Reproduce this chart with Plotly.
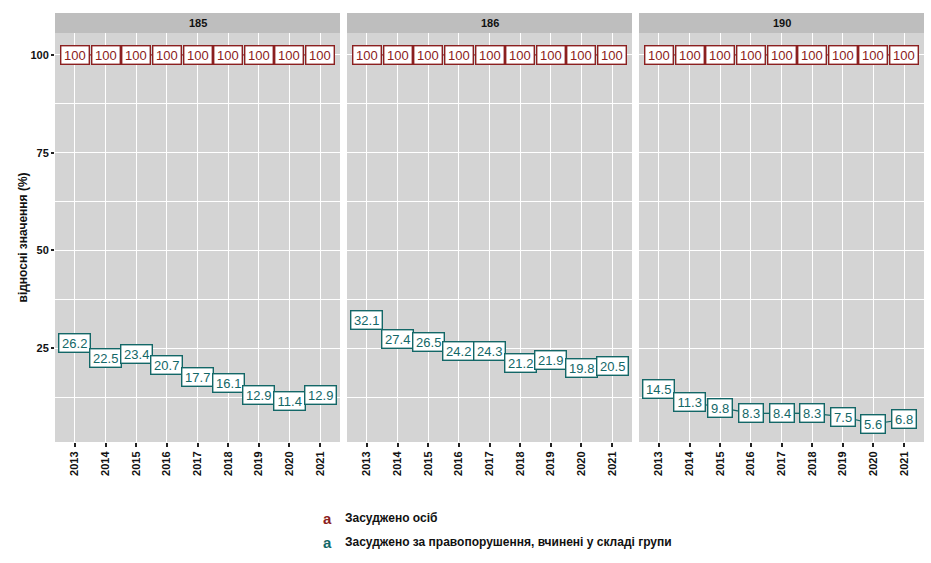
import plotly.graph_objects as go

years = [2013, 2014, 2015, 2016, 2017, 2018, 2019, 2020, 2021]
panels = ["185", "186", "190"]
convicted = {
    "185": [100, 100, 100, 100, 100, 100, 100, 100, 100],
    "186": [100, 100, 100, 100, 100, 100, 100, 100, 100],
    "190": [100, 100, 100, 100, 100, 100, 100, 100, 100],
}
group = {
    "185": [26.2, 22.5, 23.4, 20.7, 17.7, 16.1, 12.9, 11.4, 12.9],
    "186": [32.1, 27.4, 26.5, 24.2, 24.3, 21.2, 21.9, 19.8, 20.5],
    "190": [14.5, 11.3, 9.8, 8.3, 8.4, 8.3, 7.5, 5.6, 6.8],
}
series_names = ["Засуджено осіб", "Засуджено за правопорушення, вчинені у складі групи"]
y_title = "відносні значення (%)"
y_ticks = [25, 50, 75, 100]
y_minor = [12.5, 37.5, 62.5, 87.5]

RED = "#8B2020"
TEAL = "#136767"
PANEL_BG = "#D4D4D4"
STRIP_BG = "#BEBEBE"
FONT = "Liberation Sans, Arial, sans-serif"
LABEL_SIZE = 13

W, H = 931, 563
ml, mr, mt, mb = 55, 7, 13, 121
pw = W - ml - mr
ph = H - mt - mb
strip_h = 20
ytop = 1 - strip_h / ph
panel_px = [(0, 285), (292, 577), (584, 869)]
domains = [[a / pw, b / pw] for a, b in panel_px]


def label_width(s):
    w = sum(0.278 if c == "." else 0.556 for c in s) * LABEL_SIZE
    return w + 3


fig = go.Figure()
annotations = []
shapes = []

for i, p in enumerate(panels):
    xa = "x" if i == 0 else f"x{i+1}"
    ya = "y" if i == 0 else f"y{i+1}"
    for vals, col in [(convicted[p], RED), (group[p], TEAL)]:
        fig.add_trace(go.Scatter(x=years, y=vals, mode="lines",
                                 line=dict(color=col, width=1.2),
                                 xaxis=xa, yaxis=ya, showlegend=False,
                                 hoverinfo="skip"))
        for xv, yv in zip(years, vals):
            txt = f"{yv:g}"
            annotations.append(dict(
                x=xv, y=yv, xref=xa, yref=ya, text=txt, width=label_width(txt),
                showarrow=False, font=dict(family=FONT, size=LABEL_SIZE, color=col),
                bgcolor="white", bordercolor=col, borderwidth=1.4,
                borderpad=1.2, xanchor="center", yanchor="middle", align="center"))
    axn = "xaxis" if i == 0 else f"xaxis{i+1}"
    ayn = "yaxis" if i == 0 else f"yaxis{i+1}"
    fig.layout[axn] = dict(
        domain=domains[i], anchor=ya, range=[2012.35, 2021.65],
        tickvals=years, ticktext=[f"<b>{y}</b>" for y in years], tickangle=-90,
        tickfont=dict(family=FONT, size=11, color="#111"),
        ticks="outside", ticklen=4, tickcolor="#222", tickwidth=1.5,
        showgrid=True, gridcolor="white", gridwidth=1.3,
        zeroline=False, showline=False, fixedrange=True, automargin=False)
    fig.layout[ayn] = dict(
        domain=[0, ytop], anchor=xa, range=[1.0, 105.6],
        tickvals=y_ticks, ticktext=[f"<b>{t}</b>" for t in y_ticks],
        showticklabels=(i == 0),
        tickfont=dict(family=FONT, size=11, color="#111"),
        ticks="outside" if i == 0 else "", ticklen=3, tickcolor="#222", tickwidth=1.5,
        showgrid=True, gridcolor="white", gridwidth=1.3,
        minor=dict(tickvals=y_minor, showgrid=True, gridcolor="white", gridwidth=0.7, ticks=""),
        zeroline=False, showline=False, fixedrange=True, automargin=False)
    if i != 0:
        fig.layout[ayn]["matches"] = "y"
    shapes.append(dict(type="rect", xref=f"{xa} domain", yref=f"{ya} domain",
                       x0=0, x1=1, y0=0, y1=1, fillcolor=PANEL_BG,
                       line=dict(width=0), layer="below"))
    shapes.append(dict(type="rect", xref=f"{xa} domain", yref="paper",
                       x0=0, x1=1, y0=ytop, y1=1, fillcolor=STRIP_BG,
                       line=dict(width=0), layer="below"))
    annotations.append(dict(x=(domains[i][0] + domains[i][1]) / 2, y=(ytop + 1) / 2,
                            xref="paper", yref="paper", text=f"<b>{p}</b>",
                            showarrow=False, font=dict(family=FONT, size=11, color="#111"),
                            xanchor="center", yanchor="middle"))

annotations.append(dict(x=(22 - ml) / pw, y=ytop / 2, xref="paper", yref="paper",
                        text=f"<b>{y_title}</b>", textangle=-90, showarrow=False,
                        font=dict(family=FONT, size=12, color="#111"),
                        xanchor="center", yanchor="middle"))

for k, (name, col) in enumerate(zip(series_names, [RED, TEAL])):
    ypx = 518 + 24 * k
    yp = 1 - (ypx - mt) / ph
    annotations.append(dict(x=(327 - ml) / pw, y=yp, xref="paper", yref="paper",
                            text="<b>a</b>", showarrow=False,
                            font=dict(family=FONT, size=15, color=col),
                            xanchor="center", yanchor="middle"))
    annotations.append(dict(x=(343 - ml) / pw, y=yp, xref="paper", yref="paper",
                            text=f"<b>{name}</b>", showarrow=False,
                            font=dict(family=FONT, size=12, color="#111"),
                            xanchor="left", yanchor="middle"))

fig.update_layout(width=W, height=H, margin=dict(l=ml, r=mr, t=mt, b=mb),
                  paper_bgcolor="white", plot_bgcolor="rgba(0,0,0,0)",
                  annotations=annotations, shapes=shapes, showlegend=False)

fig.write_html("out.html", config={"displayModeBar": False},
               post_script="document.body.style.margin='0';document.body.style.overflow='hidden';")
